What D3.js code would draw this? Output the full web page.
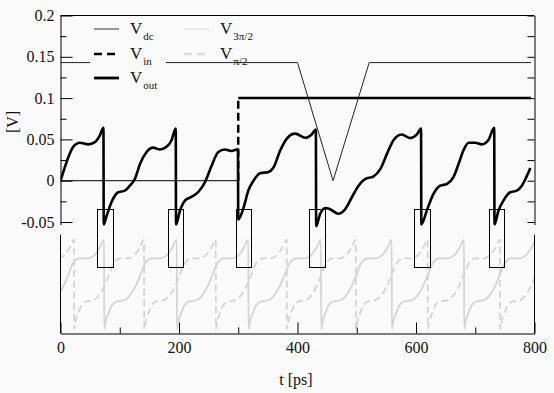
<!DOCTYPE html>
<html>
<head>
<meta charset="utf-8">
<script src="https://cdn.jsdelivr.net/npm/d3@7"></script>
</head>
<body style="margin:0;background:#fafafa">
<script>
// ---- data ----
// V_out: t [ps], value [V]  (each drop is a peak point followed by the bottom point)
var voutT = [0, 4.5, 13, 21.4, 32.7, 46.7, 58, 66.5, 72.5, 73,
  77.6, 86, 97.4, 108.7, 117, 125.5, 134, 145, 156.5, 167.7, 179, 187.4, 194.5, 195,
  201.5, 210, 221, 232, 243.7, 255, 266, 277.5, 288.6, 299.5, 300,
  309, 317, 325.7, 337, 351, 359.5, 370.8, 382, 396, 413, 424, 431, 431.5,
  438, 446.8, 455, 469, 480.5, 491.8, 503, 514, 528, 539.6, 551, 562, 576, 590, 601.5, 608.5, 609,
  618, 629.5, 641, 652, 663, 671.7, 680, 688.6, 700, 711, 722, 732, 732.5,
  739, 747.6, 759, 770, 778.7, 786, 793];
var voutV = [0, 0.010, 0.028, 0.041, 0.046, 0.044, 0.0467, 0.055, 0.064, -0.053,
  -0.043, -0.026, -0.014, -0.012, -0.006, 0.002, 0.020, 0.0345, 0.040, 0.0378, 0.041, 0.049, 0.063, -0.053,
  -0.0366, -0.024, -0.0195, -0.014, -0.002, 0.018, 0.0345, 0.0378, 0.036, 0.038, -0.047,
  -0.0325, -0.012, 0, 0.009, 0.0105, 0.016, 0.0366, 0.051, 0.057, 0.052, 0.056, 0.062, -0.055,
  -0.0406, -0.033, -0.0345, -0.04, -0.0345, -0.020, -0.006, 0.002, 0.005, 0.014, 0.0325, 0.049, 0.056, 0.0516, 0.056, 0.063, -0.053,
  -0.0366, -0.016, -0.006, -0.004, 0.004, 0.020, 0.0366, 0.046, 0.046, 0.044, 0.049, 0.064, -0.053,
  -0.0366, -0.024, -0.014, -0.012, -0.006, 0.004, 0.0155];

var vdcT = [0, 400, 460, 521, 794];
var vdcV = [0.143, 0.143, 0.0, 0.143, 0.143];

var vinT = [0, 300, 300, 794];
var vinV = [0, 0, 0.1, 0.1];

// one cycle of the phase waveforms (lower panel), phase 0..1, normalised value
var cyclePhase = [0, 0.023, 0.06, 0.105, 0.174, 0.266, 0.334, 0.426, 0.495, 0.564, 0.656, 0.77, 0.862, 0.93, 1];
var cycleValue = [-1, -0.81, -0.64, -0.47, -0.38, -0.36, -0.285, -0.06, 0.2, 0.465, 0.578, 0.578, 0.65, 0.8, 0.99];
var period = 121;
var drops3pi2 = [73.8, 196.5, 317.3, 440, 559.3, 681.3];
var dropsPi2 = [23.1, 141.3, 262.3, 382.1, 498.6, 620, 742];

// boxes around the switching events
var boxStart = [61.4, 182, 297, 418.6, 597, 724];
var boxEnd = [87.7, 207.5, 323, 445.8, 623.6, 749.5];

var xTicks = [0, 200, 400, 600, 800];
var xMinor = [100, 300, 500, 700];
var yTicks = [-0.05, 0, 0.05, 0.1, 0.15, 0.2];
var yMinor = [-0.025, 0.025, 0.075, 0.125, 0.175];

// ---- chart ----
var W = 554, H = 393;
var svg = d3.select("body").append("svg").attr("width", W).attr("height", H).style("display", "block");

var x = d3.scaleLinear().domain([0, 800]).range([60.5, 534.5]);
var y = d3.scaleLinear().domain([-0.053, 0.2]).range([224.5, 15.5]);
var yLow = d3.scaleLinear().domain([-1.1, 1.1]).range([333.5, 235]);

svg.append("clipPath").attr("id", "clip")
  .append("rect")
  .attr("x", x(0)).attr("y", y(0.2))
  .attr("width", x(800) - x(0)).attr("height", yLow(-1.1) - y(0.2));

var plot = svg.append("g").attr("clip-path", "url(#clip)");

// lower panel waveforms
function buildPhase(drops) {
  var starts = [drops[0] - period].concat(drops);
  var pts = [];
  starts.forEach(function(s, i) {
    var e = i + 1 < starts.length ? starts[i + 1] : s + period;
    cyclePhase.forEach(function(p, j) {
      var t = j === cyclePhase.length - 1 ? e - 0.3 : s + p * (e - s);
      pts.push([t, cycleValue[j]]);
    });
  });
  return pts;
}

var lowLine = d3.line()
  .x(function(d) { return x(d[0]); })
  .y(function(d) { return yLow(d[1]); })
  .curve(d3.curveMonotoneX);

plot.append("path")
  .datum(buildPhase(dropsPi2))
  .attr("d", lowLine)
  .attr("fill", "none")
  .attr("stroke", "#d4d4d4")
  .attr("stroke-width", 1.8)
  .attr("stroke-dasharray", "7,4");

plot.append("path")
  .datum(buildPhase(drops3pi2))
  .attr("d", lowLine)
  .attr("fill", "none")
  .attr("stroke", "#d4d4d4")
  .attr("stroke-width", 1.8);

// boxes
plot.selectAll("rect.box")
  .data(boxStart)
  .enter().append("rect")
  .attr("class", "box")
  .attr("x", function(d) { return Math.round(x(d)) + 0.5; })
  .attr("y", Math.round(y(-0.034)) + 0.5)
  .attr("width", function(d, i) { return Math.round(x(boxEnd[i]) - x(d)); })
  .attr("height", Math.round(yLow(0.4) - y(-0.034)))
  .attr("fill", "none")
  .attr("stroke", "#000")
  .attr("stroke-width", 1);

var line = d3.line()
  .x(function(d) { return x(d[0]); })
  .y(function(d) { return y(d[1]); });

// V_dc
plot.append("path")
  .datum(vdcT.map(function(t, i) { return [t, vdcV[i]]; }))
  .attr("d", line)
  .attr("fill", "none")
  .attr("stroke", "#222")
  .attr("stroke-width", 1);

// V_in
for (var i = 0; i < vinT.length - 1; i++) {
  var seg = [[vinT[i], vinV[i]], [vinT[i + 1], vinV[i + 1]]];
  var p = plot.append("path").datum(seg).attr("d", line).attr("fill", "none").attr("stroke", "#000");
  if (vinT[i] === vinT[i + 1]) p.attr("stroke-width", 2.5).attr("stroke-dasharray", "8,4");
  else if (vinV[i] === 0) p.attr("stroke-width", 1);
  else p.attr("stroke-width", 2.5);
}

// V_out
plot.append("path")
  .datum(voutT.map(function(t, i) { return [t, voutV[i]]; }))
  .attr("d", line.curve(d3.curveMonotoneX))
  .attr("fill", "none")
  .attr("stroke", "#000")
  .attr("stroke-width", 2.6)
  .attr("stroke-linejoin", "round");

// ---- axes ----
function styleAxis(g) {
  g.attr("font-family", "Liberation Serif").attr("font-size", 16);
  g.selectAll("line").attr("stroke", "#000");
  g.selectAll("text").attr("fill", "#111");
}

svg.append("g")
  .attr("transform", "translate(" + x(0) + ",0)")
  .call(d3.axisLeft(y).tickValues(yTicks).tickSizeInner(-12).tickSizeOuter(0).tickPadding(6)
    .tickFormat(function(d) { return String(d); }))
  .call(styleAxis);

svg.append("g")
  .attr("transform", "translate(" + x(0) + ",0)")
  .call(d3.axisLeft(y).tickValues(yMinor).tickSize(-6).tickFormat(""))
  .call(function(g) { g.select(".domain").remove(); })
  .call(styleAxis);

svg.append("g")
  .attr("transform", "translate(" + x(800) + ",0)")
  .call(d3.axisRight(y).tickValues(yTicks.concat(yMinor)).tickSize(-7).tickSizeOuter(0).tickFormat(""))
  .call(styleAxis);

svg.append("g")
  .attr("transform", "translate(0," + yLow(-1.1) + ")")
  .call(d3.axisBottom(x).tickValues(xTicks).tickSizeInner(-11).tickSizeOuter(0).tickPadding(8)
    .tickFormat(d3.format("d")))
  .call(styleAxis);

svg.append("g")
  .attr("transform", "translate(0," + yLow(-1.1) + ")")
  .call(d3.axisBottom(x).tickValues(xMinor).tickSize(-6).tickFormat(""))
  .call(function(g) { g.select(".domain").remove(); })
  .call(styleAxis);

// top border and the lower panel sides
svg.append("line")
  .attr("x1", x(0)).attr("x2", x(800)).attr("y1", y(0.2)).attr("y2", y(0.2))
  .attr("stroke", "#000");
[0, 800].forEach(function(t) {
  svg.append("line")
    .attr("x1", x(t)).attr("x2", x(t))
    .attr("y1", yLow.range()[1]).attr("y2", yLow.range()[0])
    .attr("stroke", "#000");
});

// axis titles
svg.append("text")
  .attr("x", 296).attr("y", 385)
  .attr("text-anchor", "middle")
  .style("font-size", "16px")
  .text("t [ps]");

svg.append("text")
  .attr("transform", "translate(18,122) rotate(-90)")
  .attr("text-anchor", "middle")
  .style("font-size", "16px")
  .text("[V]");

// ---- legend ----
var legendNames = ["dc", "in", "out", "3\u03c0/2", "\u03c0/2"];
var legendCol = [0, 0, 0, 1, 1];
var legendRow = [0, 1, 2, 0, 1];
var rowY = [29, 54, 78];
var colX = [94, 184];

svg.append("rect")
  .attr("x", 90).attr("y", 20).attr("width", 76).attr("height", 74)
  .attr("fill", "#fafafa");

var legendStroke = [
  {c: "#333", w: 1, dash: null},
  {c: "#000", w: 2.6, dash: "8,5"},
  {c: "#000", w: 2.8, dash: null},
  {c: "#dcdcdc", w: 1, dash: null},
  {c: "#dcdcdc", w: 2.6, dash: "8,5"}
];

legendNames.forEach(function(name, i) {
  var lx = colX[legendCol[i]], ly = rowY[legendRow[i]];
  var s = legendStroke[i];
  svg.append("line")
    .attr("x1", lx).attr("x2", lx + 25).attr("y1", ly).attr("y2", ly)
    .attr("stroke", s.c).attr("stroke-width", s.w)
    .attr("stroke-dasharray", s.dash);
  var t = svg.append("text")
    .attr("x", lx + 36).attr("y", ly + 5)
    .style("font-size", "17px");
  t.append("tspan").text("V");
  t.append("tspan").attr("dx", 1).attr("dy", 6).style("font-size", "11px").text(name);
});

svg.selectAll("text").style("font-family", "'Liberation Serif'").style("fill", "#111");
</script>
</body>
</html>
